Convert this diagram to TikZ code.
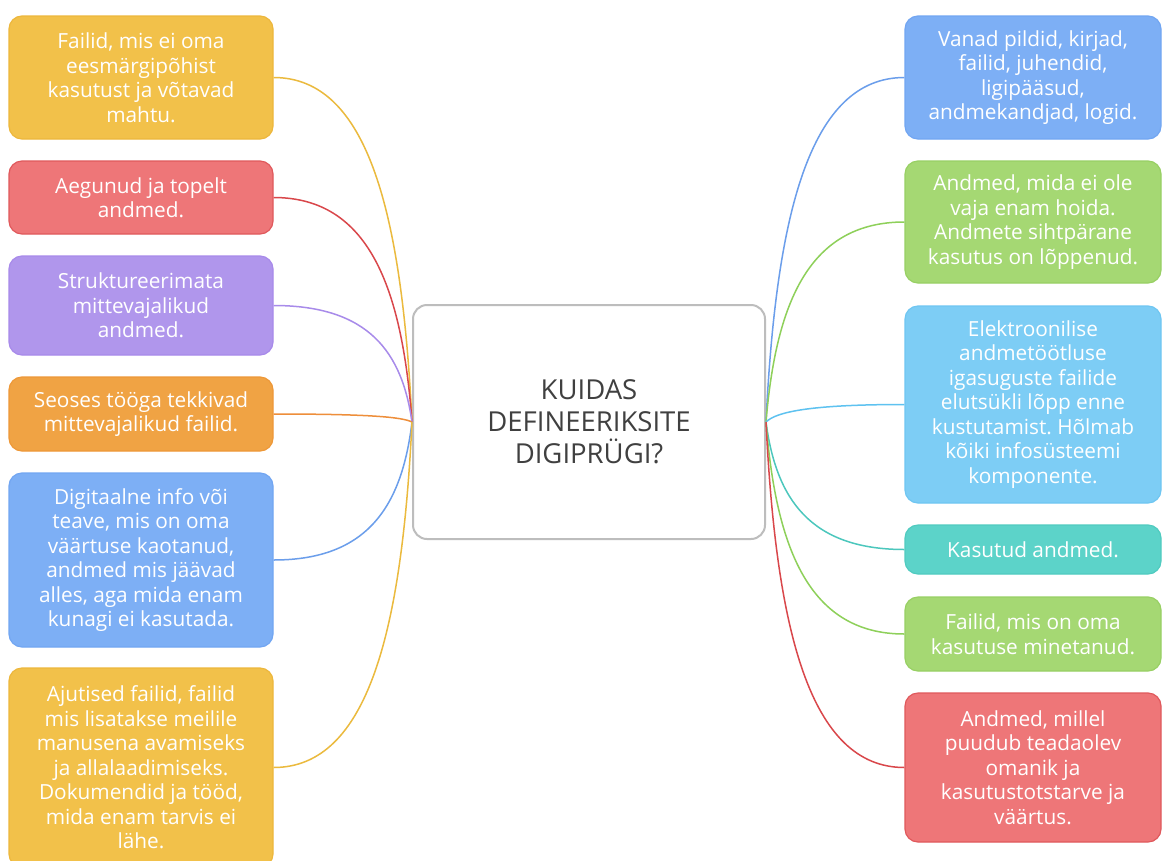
\documentclass[tikz,border=0pt]{standalone}
\usepackage{fontspec}
\setmainfont{Open Sans}
\frenchspacing
\definecolor{yelF}{HTML}{F2C14A}\definecolor{yelD}{HTML}{EDB73C}\definecolor{yelL}{HTML}{EBBA3E}
\definecolor{redF}{HTML}{EE7678}\definecolor{redD}{HTML}{E0595C}\definecolor{redL}{HTML}{D9474B}
\definecolor{purF}{HTML}{B096EC}\definecolor{purD}{HTML}{A88AEA}\definecolor{purL}{HTML}{A88BEA}
\definecolor{oraF}{HTML}{F0A344}\definecolor{oraD}{HTML}{EE9838}\definecolor{oraL}{HTML}{EE8E3A}
\definecolor{bluF}{HTML}{7DAFF5}\definecolor{bluD}{HTML}{72A6F2}\definecolor{bluL}{HTML}{6B9EEB}
\definecolor{grnF}{HTML}{A5D873}\definecolor{grnD}{HTML}{98D064}\definecolor{grnL}{HTML}{8ED05A}
\definecolor{lbuF}{HTML}{7DCDF5}\definecolor{lbuD}{HTML}{6FC6F2}\definecolor{lbuL}{HTML}{5EC2F0}
\definecolor{teaF}{HTML}{5CD3C9}\definecolor{teaD}{HTML}{50CBC0}\definecolor{teaL}{HTML}{4CC7BD}
\definecolor{ctrB}{HTML}{BDBDBD}\definecolor{ctrT}{HTML}{404040}
\tikzset{
 leaf/.style={rounded corners=13pt, line width=1.2pt, text=white, align=center,
   font=\fontsize{20.8}{24.5}\selectfont, inner sep=0pt},
 lbox/.style={leaf, minimum width=264pt},
 rbox/.style={leaf, minimum width=256pt},
 conn/.style={line width=1.5pt},
 center/.style={rounded corners=14pt, draw=ctrB, line width=2pt, fill=white,
   minimum width=352pt, minimum height=234pt, align=center, text=ctrT,
   font=\fontsize{27.5}{32}\selectfont}
}
\begin{document}
\begin{tikzpicture}[x=1pt,y=-1pt]
\clip (0,0) rectangle (1162,860);
\fill[white] (0,0) rectangle (1162,860);
\node[center] (c) at (589,422) {KUIDAS\\DEFINEERIKSITE\\DIGIPRÜGI?};
% left
\node[lbox, fill=yelF, draw=yelD, minimum height=123pt] (l1) at (141,77.5) {Failid, mis ei oma\\eesmärgipõhist\\kasutust ja võtavad\\mahtu.};
\node[lbox, fill=redF, draw=redD, minimum height=73pt] (l2) at (141,197.5) {Aegunud ja topelt\\andmed.};
\node[lbox, fill=purF, draw=purD, minimum height=99pt] (l3) at (141,305.5) {Struktureerimata\\mittevajalikud\\andmed.};
\node[lbox, fill=oraF, draw=oraD, minimum height=74pt] (l4) at (141,414) {Seoses tööga tekkivad\\mittevajalikud failid.};
\node[lbox, fill=bluF, draw=bluD, minimum height=174pt] (l5) at (141,560) {Digitaalne info või\\teave, mis on oma\\väärtuse kaotanud,\\andmed mis jäävad\\alles, aga mida enam\\kunagi ei kasutada.};
\node[lbox, fill=yelF, draw=yelD, minimum height=199pt] (l6) at (141,767.5) {Ajutised failid, failid\\mis lisatakse meilile\\manusena avamiseks\\ja allalaadimiseks.\\Dokumendid ja tööd,\\mida enam tarvis ei\\lähe.};
% right
\node[rbox, fill=bluF, draw=bluD, minimum height=123pt] (r1) at (1033,77.5) {Vanad pildid, kirjad,\\failid, juhendid,\\ligipääsud,\\andmekandjad, logid.};
\node[rbox, fill=grnF, draw=grnD, minimum height=122pt] (r2) at (1033,222) {Andmed, mida ei ole\\vaja enam hoida.\\Andmete sihtpärane\\kasutus on lõppenud.};
\node[rbox, fill=lbuF, draw=lbuD, minimum height=197pt] (r3) at (1033,404.5) {Elektroonilise\\andmetöötluse\\igasuguste failide\\elutsükli lõpp enne\\kustutamist. Hõlmab\\kõiki infosüsteemi\\komponente.};
\node[rbox, fill=teaF, draw=teaD, minimum height=49pt] (r4) at (1033,549.5) {Kasutud andmed.};
\node[rbox, fill=grnF, draw=grnD, minimum height=74pt] (r5) at (1033,634) {Failid, mis on oma\\kasutuse minetanud.};
\node[rbox, fill=redF, draw=redD, minimum height=149pt] (r6) at (1033,767.5) {Andmed, millel\\puudub teadaolev\\omanik ja\\kasutustotstarve ja\\väärtus.};
% connectors left
\draw[conn, yelL] (l1.east) .. controls +(95,0) and +(-10,-207) .. (c.west);
\draw[conn, redL] (l2.east) .. controls +(95,0) and +(-10,-135) .. (c.west);
\draw[conn, purL] (l3.east) .. controls +(95,0) and +(-10,-70) .. (c.west);
\draw[conn, oraL] (l4.east) .. controls +(95,0) and +(-10,-5) .. (c.west);
\draw[conn, bluL] (l5.east) .. controls +(95,0) and +(-10,83) .. (c.west);
\draw[conn, yelL] (l6.east) .. controls +(95,0) and +(-10,207) .. (c.west);
% connectors right
\draw[conn, bluL] (c.east) .. controls +(10,-207) and +(-95,0) .. (r1.west);
\draw[conn, grnL] (c.east) .. controls +(10,-120) and +(-95,0) .. (r2.west);
\draw[conn, lbuL] (c.east) .. controls +(10,-10) and +(-95,0) .. (r3.west);
\draw[conn, teaL] (c.east) .. controls +(10,76) and +(-95,0) .. (r4.west);
\draw[conn, grnL] (c.east) .. controls +(10,127) and +(-95,0) .. (r5.west);
\draw[conn, redL] (c.east) .. controls +(10,207) and +(-95,0) .. (r6.west);
\end{tikzpicture}
\end{document}
